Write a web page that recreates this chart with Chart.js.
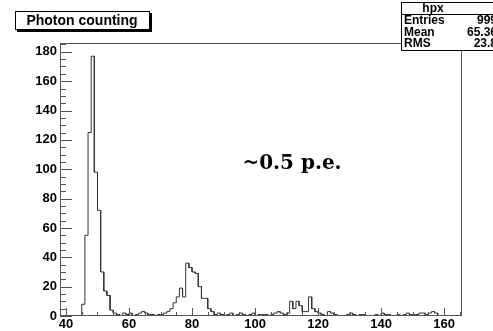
<!DOCTYPE html>
<html>
<head>
<meta charset="utf-8">
<script src="https://cdn.jsdelivr.net/npm/chart.js@4.4.1/dist/chart.umd.min.js"></script>
<style>
  html, body { margin: 0; padding: 0; background: #fff; }
  #wrap { width: 493px; height: 331px; }
</style>
</head>
<body>
<div id="wrap"><canvas id="hist" width="493" height="331"></canvas></div>
<script>
// histogram hpx: unit-width bins, first bin starts at binLow
const binLow = 38;
const counts = [
  0, 0, 0, 0, 0, 0, 0,                 // 38-44
  8, 55, 125, 177, 98, 72, 30, 17, 14, 4, // 45-54
  2, 1, 0, 2, 1, 2, 0, 1, 2, 3,        // 55-64
  2, 1, 1, 0, 1, 1, 2, 3, 5, 9,        // 65-74
  13, 19, 13, 36, 33, 30, 29, 20, 12, 12, // 75-84
  5, 3, 1, 2, 1, 0, 1, 2, 0, 1,        // 85-94
  2, 1, 0, 1, 2, 0, 1, 1, 1, 0,        // 95-104
  1, 2, 3, 2, 1, 2, 10, 5, 10, 7,      // 105-114
  3, 3, 13, 5, 3, 2, 1, 0, 3, 2,       // 115-124
  1, 0, 0, 0, 1, 2, 1, 0, 1, 1,        // 125-134
  0, 0, 0, 1, 0, 2, 1, 1, 0, 0,        // 135-144
  1, 0, 1, 2, 1, 1, 1, 2, 2, 1,        // 145-154
  2, 3, 2, 0, 0, 0, 0, 0, 0, 0, 0      // 155-165
];
const xRange = [38.1, 165.7];
const yRange = [0, 186];
const xTickStep = 20;
const yTickStep = 20;
const minorStep = 5;

const histTitle = 'Photon counting';
const statsName = 'hpx';
const statsLabels = ['Entries', 'Mean', 'RMS'];
const statsValues = ['999', '65.36', '23.8'];
const noteText = '~0.5 p.e.';

// outline points: two per bin, left and right edge
const outline = [];
counts.forEach((c, i) => {
    outline.push({ x: binLow + i, y: c });
    outline.push({ x: binLow + i + 1, y: c });
});

const axisFont = { family: 'Liberation Sans', weight: 'bold', size: 13 };

const rootPad = {
    id: 'rootPad',
    afterDatasetsDraw(chart) {
        const { ctx, chartArea: a, scales } = chart;
        const xs = scales.x, ys = scales.y;
        ctx.save();
        // frame
        ctx.strokeStyle = '#555';
        ctx.lineWidth = 1;
        ctx.strokeRect(Math.round(a.left) + 0.5, Math.round(a.top) + 0.5,
            Math.round(a.right - a.left) - 1, Math.round(a.bottom - a.top) - 1);

        // x ticks, pointing up from the bottom
        ctx.beginPath();
        for (let v = Math.ceil(xRange[0] / minorStep) * minorStep; v <= xRange[1]; v += minorStep) {
            const px = Math.round(xs.getPixelForValue(v)) + 0.5;
            const len = v % xTickStep === 0 ? 8 : 4;
            ctx.moveTo(px, a.bottom);
            ctx.lineTo(px, a.bottom - len);
        }
        // y ticks, pointing right from the left
        for (let v = yRange[0]; v <= yRange[1]; v += minorStep) {
            const py = Math.round(ys.getPixelForValue(v)) + 0.5;
            const len = v % yTickStep === 0 ? 12 : 6;
            ctx.moveTo(a.left, py);
            ctx.lineTo(a.left + len, py);
        }
        ctx.stroke();

        // title box with shadow
        ctx.fillStyle = '#000';
        ctx.fillRect(17, 13, 135, 19);
        ctx.fillStyle = '#fff';
        ctx.fillRect(15, 11, 135, 19);
        ctx.strokeStyle = '#000';
        ctx.strokeRect(15.5, 11.5, 134, 18);
        ctx.fillStyle = '#000';
        ctx.font = 'bold 14px "Liberation Sans"';
        ctx.textAlign = 'center';
        ctx.textBaseline = 'middle';
        ctx.fillText(histTitle, 82, 21);

        // stats box
        const bx = 401, by = 2, bw = 100, bh = 48;
        ctx.fillStyle = '#fff';
        ctx.fillRect(bx, by, bw, bh);
        ctx.strokeStyle = '#000';
        ctx.strokeRect(bx + 0.5, by + 0.5, bw, bh);
        ctx.beginPath();
        ctx.moveTo(bx, by + 12.5);
        ctx.lineTo(bx + bw, by + 12.5);
        ctx.stroke();
        ctx.font = 'bold 12px "Liberation Sans"';
        ctx.fillStyle = '#000';
        ctx.textAlign = 'center';
        ctx.fillText(statsName, 433, by + 7);
        statsLabels.forEach((lab, i) => {
            const ty = by + 19 + i * 11.5;
            ctx.textAlign = 'left';
            ctx.fillText(lab, bx + 3, ty);
            ctx.textAlign = 'right';
            ctx.fillText(statsValues[i], 497, ty);
        });

        // annotation
        ctx.font = 'bold 20px "DejaVu Serif"';
        ctx.textAlign = 'center';
        ctx.fillText(noteText, 292, 164);
        ctx.restore();
    }
};

new Chart(document.getElementById('hist'), {
    type: 'line',
    data: {
        datasets: [{
            data: outline,
            borderColor: '#333',
            borderWidth: 1,
            pointRadius: 0,
            tension: 0,
            fill: false
        }]
    },
    options: {
        responsive: false,
        animation: false,
        layout: { padding: { top: 43, right: 31, left: 0, bottom: 0 } },
        plugins: { legend: { display: false }, tooltip: { enabled: false } },
        scales: {
            x: {
                type: 'linear',
                min: xRange[0],
                max: xRange[1],
                grid: { display: false, drawTicks: false },
                border: { display: false },
                ticks: {
                    stepSize: xTickStep,
                    includeBounds: false,
                    color: '#000',
                    font: axisFont,
                    padding: 1,
                    maxRotation: 0
                },
                afterFit(scale) { scale.height = 15; }
            },
            y: {
                min: yRange[0],
                max: yRange[1],
                grid: { display: false, drawTicks: false },
                border: { display: false },
                ticks: {
                    stepSize: yTickStep,
                    includeBounds: false,
                    color: '#000',
                    font: axisFont,
                    padding: 3
                },
                afterFit(scale) { scale.width = 60; }
            }
        }
    },
    plugins: [rootPad]
});
</script>
</body>
</html>
